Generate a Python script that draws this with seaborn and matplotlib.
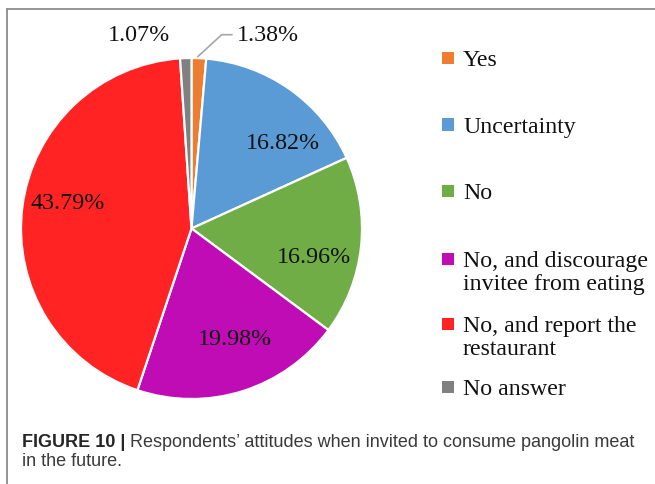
import matplotlib
matplotlib.use("Agg")
import matplotlib.pyplot as plt
from matplotlib.lines import Line2D
from matplotlib.patches import Rectangle
import seaborn as sns

# Survey answers and their shares (%)
categories = ["Yes", "Uncertainty", "No",
              "No, and discourage\ninvitee from eating",
              "No, and report the\nrestaurant",
              "No answer"]
shares = [1.38, 16.82, 16.96, 19.98, 43.79, 1.07]
caption_bold = "FIGURE 10 |"
caption_text = "Respondents\u2019 attitudes when invited to consume pangolin meat"
caption_line2 = "in the future."

sns.set_theme(style="white")
palette = sns.color_palette(["#ED7D31", "#5B9BD5", "#70AD47",
                             "#C00CB4", "#FF2323", "#808080"])
plt.rcParams["font.family"] = ["Liberation Serif", "DejaVu Serif"]

W, H = 655, 485
fig = plt.figure(figsize=(W / 100, H / 100), dpi=100)
fig.patch.set_facecolor("white")


def fx(px):
    return px / W


def fy(py):
    return 1 - py / H


# pie geometry in pixels
cx, cy, r = 191.5, 229.5, 170.5
ax = fig.add_axes([fx(cx - r), fy(cy + r), 2 * r / W, 2 * r / H])
wedges, _ = ax.pie(shares, colors=palette, startangle=90, counterclock=False,
                   radius=1.0,
                   wedgeprops=dict(edgecolor="white", linewidth=1.6))
ax.set_xlim(-1, 1)
ax.set_ylim(-1, 1)
ax.set_aspect("equal")
ax.axis("off")


def to_data(px, py):
    return (px - cx) / r, (cy - py) / r


# value labels (pixel anchor positions of each label centre)
label_pos = [(237, 36), (283, 144), (314, 258), (235, 340), (68, 204), (139, 36)]
for i, (val, (px, py)) in enumerate(zip(shares, label_pos)):
    x, y = to_data(px, py)
    ha = "left" if i == 0 else "center"
    ax.text(x, y, f"{val:.2f}%", ha=ha, va="center", fontsize=17.3,
            color="#111111", clip_on=False)

# leader line for the thin "Yes" slice
lx, ly = zip(*[to_data(197.7, 57.7), to_data(221.7, 35.7), to_data(232, 35.7)])
ax.add_line(Line2D(lx, ly, color="#A6A6A6", linewidth=1.2, clip_on=False))

# legend: coloured squares with serif labels
baselines = [66.5, 133, 199, 267, 332, 395]
for col, lab, base in zip(palette, categories, baselines):
    sq = 12
    fig.patches.append(Rectangle((fx(442), fy(base - 7.5 + sq / 2)), sq / W, sq / H,
                                 transform=fig.transFigure, facecolor=col,
                                 edgecolor="none"))
    for i, line in enumerate(lab.split("\n")):
        fig.text(fx(463), fy(base + 23 * i), line, ha="left", va="baseline",
                 fontsize=17.2, color="#111111")

# frame around the chart panel
fig.add_artist(Line2D([fx(7.3), fx(7.3)], [fy(10), 0], transform=fig.transFigure,
                      color="#8C8C8C", linewidth=1.3))
fig.add_artist(Line2D([fx(7.3), fx(655)], [fy(10), fy(10)], transform=fig.transFigure,
                      color="#8C8C8C", linewidth=1.3))

# caption
cap_font = ["Liberation Sans", "DejaVu Sans"]
cap_size = 13
t1 = fig.text(fx(22), fy(447.3), caption_bold, ha="left", va="baseline",
              fontsize=cap_size, fontweight="bold", color="#262626", family=cap_font)
fig.add_artist(plt.Annotation(caption_text, xy=(1, 0), xycoords=t1, xytext=(3.5, 0),
                              textcoords="offset points", ha="left", va="bottom",
                              fontsize=cap_size, color="#3a3a3a", family=cap_font,
                              annotation_clip=False))
fig.text(fx(22), fy(466), caption_line2, ha="left", va="baseline",
         fontsize=cap_size, color="#3a3a3a", family=cap_font)

fig.savefig("out.png", dpi=100, facecolor="white")
